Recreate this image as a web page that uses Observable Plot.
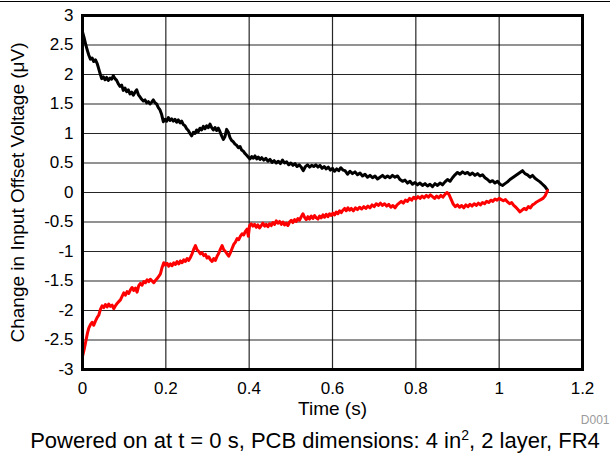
<!DOCTYPE html>
<html>
<head>
<meta charset="utf-8">
<script src="https://cdn.jsdelivr.net/npm/d3@7"></script>
<script src="https://cdn.jsdelivr.net/npm/@observablehq/plot@0.6"></script>
<style>
  html, body { margin: 0; padding: 0; background: #fff; }
  #wrap { position: relative; width: 610px; height: 453px; overflow: hidden; font-family: "Liberation Sans", Arial, sans-serif; }
  #topline { position: absolute; left: 0; top: 1px; width: 610px; height: 1px; background: #000; }
  #chart { position: absolute; left: 0; top: 0; }
  #caption { position: absolute; left: 20px; width: 590px; top: 428px; text-align: center; font-size: 22px; color: #000; line-height: 25px; white-space: nowrap; }
  #caption sup { font-size: 14px; line-height: 0; vertical-align: 0.55em; }
</style>
</head>
<body>
<div id="wrap">
  <div id="chart"></div>
  <div id="topline"></div>
  <div id="caption">Powered on at t = 0 s, PCB dimensions: 4 in<sup>2</sup>, 2 layer, FR4</div>
</div>
<script>
// Tick labels
const xTicks = [0, 0.2, 0.4, 0.6, 0.8, 1, 1.2];
const yTicks = [-3, -2.5, -2, -1.5, -1, -0.5, 0, 0.5, 1, 1.5, 2, 2.5, 3];

// Black series (time s, change in offset µV)
const blackT = [0.000,0.004,0.008,0.012,0.015,0.019,0.023,0.027,0.031,0.035,0.038,0.042,0.046,0.050,0.054,0.058,0.062,0.066,0.070,0.074,0.078,0.082,0.086,0.090,0.094,0.098,0.102,0.106,0.110,0.114,0.118,0.122,0.126,0.130,0.134,0.138,0.142,0.146,0.150,0.154,0.158,0.162,0.166,0.170,0.174,0.178,0.182,0.186,0.190,0.194,0.198,0.202,0.206,0.210,0.214,0.218,0.222,0.226,0.230,0.234,0.238,0.242,0.246,0.250,0.254,0.258,0.262,0.266,0.270,0.274,0.278,0.282,0.286,0.290,0.294,0.298,0.302,0.306,0.310,0.314,0.318,0.322,0.326,0.330,0.334,0.338,0.342,0.346,0.350,0.354,0.358,0.362,0.366,0.370,0.374,0.378,0.382,0.386,0.390,0.394,0.398,0.402,0.406,0.410,0.414,0.418,0.422,0.426,0.430,0.435,0.440,0.445,0.450,0.455,0.460,0.465,0.470,0.475,0.480,0.485,0.490,0.495,0.500,0.505,0.510,0.515,0.520,0.525,0.530,0.535,0.540,0.545,0.550,0.555,0.560,0.565,0.570,0.575,0.580,0.585,0.590,0.595,0.600,0.605,0.610,0.615,0.620,0.625,0.630,0.636,0.642,0.648,0.654,0.660,0.666,0.672,0.678,0.684,0.690,0.696,0.702,0.708,0.714,0.720,0.726,0.732,0.738,0.744,0.750,0.756,0.762,0.768,0.774,0.780,0.786,0.792,0.798,0.804,0.810,0.816,0.822,0.828,0.834,0.840,0.846,0.852,0.858,0.864,0.870,0.876,0.882,0.888,0.894,0.900,0.906,0.912,0.918,0.924,0.930,0.936,0.942,0.948,0.954,0.960,0.966,0.972,0.978,0.984,0.990,0.996,1.002,1.008,1.014,1.020,1.026,1.032,1.038,1.044,1.050,1.056,1.062,1.068,1.074,1.080,1.086,1.092,1.098,1.104,1.110,1.116];
const blackV = [2.72,2.62,2.50,2.40,2.33,2.26,2.28,2.22,2.25,2.19,2.12,2.02,1.93,1.96,1.91,1.95,1.90,1.94,1.92,1.98,1.93,1.90,1.84,1.80,1.82,1.73,1.77,1.71,1.74,1.67,1.70,1.65,1.70,1.74,1.66,1.62,1.58,1.55,1.57,1.52,1.54,1.50,1.53,1.57,1.52,1.50,1.44,1.40,1.32,1.20,1.24,1.21,1.27,1.22,1.25,1.21,1.24,1.19,1.23,1.18,1.21,1.15,1.13,1.08,1.05,1.00,0.96,1.02,1.00,1.06,1.03,1.09,1.06,1.12,1.08,1.13,1.10,1.16,1.10,1.06,1.10,1.05,1.09,1.03,0.96,0.90,0.95,1.07,1.02,0.93,0.88,0.86,0.82,0.80,0.76,0.78,0.72,0.70,0.66,0.63,0.60,0.57,0.61,0.58,0.62,0.57,0.60,0.56,0.59,0.55,0.58,0.53,0.56,0.51,0.54,0.50,0.53,0.49,0.55,0.50,0.52,0.47,0.50,0.46,0.49,0.44,0.47,0.43,0.37,0.44,0.47,0.43,0.46,0.44,0.47,0.43,0.46,0.41,0.44,0.40,0.43,0.38,0.41,0.36,0.40,0.37,0.42,0.38,0.37,0.31,0.36,0.32,0.35,0.30,0.33,0.28,0.31,0.26,0.29,0.25,0.28,0.23,0.26,0.29,0.25,0.28,0.25,0.29,0.26,0.28,0.22,0.19,0.21,0.16,0.19,0.14,0.17,0.13,0.16,0.12,0.15,0.11,0.14,0.10,0.15,0.12,0.16,0.13,0.18,0.22,0.19,0.25,0.30,0.34,0.31,0.35,0.32,0.34,0.30,0.33,0.29,0.32,0.28,0.30,0.25,0.22,0.18,0.20,0.16,0.19,0.14,0.12,0.15,0.18,0.22,0.25,0.28,0.31,0.34,0.37,0.32,0.30,0.26,0.29,0.24,0.21,0.18,0.14,0.10,0.04];

// Red series
const redT = [0.000,0.004,0.008,0.012,0.015,0.019,0.023,0.027,0.031,0.035,0.039,0.043,0.047,0.051,0.055,0.059,0.063,0.067,0.071,0.075,0.079,0.083,0.087,0.091,0.095,0.099,0.103,0.107,0.111,0.115,0.119,0.123,0.127,0.131,0.135,0.139,0.143,0.147,0.151,0.155,0.159,0.163,0.167,0.171,0.175,0.179,0.183,0.187,0.191,0.195,0.199,0.203,0.207,0.211,0.215,0.219,0.223,0.227,0.231,0.235,0.239,0.243,0.247,0.251,0.255,0.259,0.263,0.267,0.271,0.275,0.279,0.283,0.287,0.291,0.295,0.299,0.303,0.307,0.311,0.315,0.319,0.323,0.327,0.331,0.335,0.339,0.343,0.347,0.351,0.355,0.359,0.363,0.367,0.371,0.375,0.379,0.383,0.387,0.391,0.395,0.398,0.401,0.405,0.409,0.413,0.417,0.421,0.425,0.429,0.433,0.437,0.441,0.445,0.449,0.453,0.457,0.461,0.465,0.469,0.473,0.477,0.481,0.485,0.489,0.493,0.497,0.501,0.505,0.509,0.513,0.517,0.521,0.525,0.529,0.533,0.537,0.541,0.545,0.549,0.553,0.557,0.561,0.565,0.569,0.573,0.577,0.581,0.585,0.589,0.593,0.597,0.601,0.605,0.609,0.613,0.617,0.621,0.625,0.629,0.633,0.637,0.641,0.645,0.650,0.655,0.660,0.665,0.670,0.675,0.680,0.685,0.690,0.695,0.700,0.705,0.710,0.715,0.720,0.725,0.730,0.735,0.740,0.745,0.750,0.755,0.760,0.765,0.770,0.775,0.780,0.785,0.790,0.795,0.800,0.805,0.810,0.815,0.820,0.825,0.830,0.835,0.840,0.845,0.850,0.855,0.860,0.865,0.870,0.875,0.880,0.885,0.890,0.895,0.900,0.905,0.910,0.915,0.920,0.925,0.930,0.935,0.940,0.945,0.950,0.955,0.960,0.965,0.970,0.975,0.980,0.985,0.990,0.995,1.000,1.005,1.010,1.015,1.020,1.025,1.030,1.035,1.040,1.045,1.050,1.055,1.060,1.065,1.070,1.075,1.080,1.085,1.090,1.095,1.100,1.105,1.110,1.116];
const redV = [-2.78,-2.66,-2.52,-2.38,-2.30,-2.24,-2.20,-2.25,-2.18,-2.12,-2.08,-1.98,-1.92,-1.95,-1.90,-1.94,-1.89,-1.93,-1.91,-1.97,-1.92,-1.88,-1.85,-1.82,-1.76,-1.70,-1.74,-1.68,-1.71,-1.65,-1.61,-1.66,-1.62,-1.69,-1.58,-1.54,-1.57,-1.51,-1.53,-1.48,-1.51,-1.47,-1.50,-1.53,-1.49,-1.46,-1.42,-1.38,-1.27,-1.19,-1.23,-1.20,-1.25,-1.21,-1.24,-1.19,-1.22,-1.17,-1.21,-1.16,-1.19,-1.14,-1.17,-1.12,-1.15,-1.10,-1.04,-0.96,-0.90,-0.97,-1.00,-1.04,-1.02,-1.07,-1.05,-1.11,-1.09,-1.14,-1.17,-1.12,-1.15,-1.08,-1.03,-0.96,-0.90,-0.97,-1.00,-1.04,-1.08,-1.02,-0.95,-0.88,-0.84,-0.78,-0.80,-0.74,-0.70,-0.72,-0.66,-0.62,-0.74,-0.56,-0.53,-0.57,-0.54,-0.59,-0.55,-0.60,-0.56,-0.52,-0.57,-0.54,-0.58,-0.53,-0.56,-0.51,-0.54,-0.48,-0.52,-0.49,-0.54,-0.50,-0.55,-0.52,-0.56,-0.50,-0.47,-0.51,-0.46,-0.49,-0.44,-0.47,-0.41,-0.36,-0.42,-0.46,-0.41,-0.45,-0.40,-0.44,-0.39,-0.43,-0.45,-0.40,-0.43,-0.38,-0.42,-0.37,-0.41,-0.36,-0.39,-0.35,-0.38,-0.33,-0.36,-0.31,-0.34,-0.30,-0.27,-0.31,-0.26,-0.30,-0.27,-0.31,-0.26,-0.29,-0.25,-0.28,-0.24,-0.27,-0.23,-0.26,-0.21,-0.24,-0.19,-0.22,-0.18,-0.22,-0.19,-0.23,-0.20,-0.25,-0.22,-0.26,-0.21,-0.18,-0.15,-0.18,-0.13,-0.15,-0.10,-0.13,-0.08,-0.11,-0.07,-0.10,-0.06,-0.09,-0.05,-0.08,-0.04,-0.07,-0.10,-0.06,-0.09,-0.05,-0.08,-0.03,0.00,-0.04,-0.12,-0.20,-0.24,-0.21,-0.25,-0.22,-0.26,-0.21,-0.24,-0.20,-0.23,-0.19,-0.22,-0.18,-0.21,-0.17,-0.19,-0.15,-0.17,-0.13,-0.15,-0.11,-0.13,-0.10,-0.12,-0.14,-0.12,-0.16,-0.19,-0.17,-0.22,-0.25,-0.29,-0.33,-0.30,-0.27,-0.29,-0.24,-0.26,-0.21,-0.19,-0.16,-0.14,-0.12,-0.10,-0.06,0.03];

const blackData = blackT.map((t, i) => ({t, v: blackV[i]}));
const redData = redT.map((t, i) => ({t, v: redV[i]}));

const chart = Plot.plot({
  width: 610,
  height: 428,
  marginTop: 15,
  marginBottom: 59,
  marginLeft: 82,
  marginRight: 28,
  style: {fontFamily: "'Liberation Sans', Arial, sans-serif", fontSize: "17px", color: "#000", background: "transparent"},
  x: {domain: [0, 1.2]},
  y: {domain: [-3, 3]},
  marks: [
    Plot.gridX(xTicks, {stroke: "#000", strokeOpacity: 0.85, strokeWidth: 1.2}),
    Plot.gridY(yTicks, {stroke: "#000", strokeOpacity: 0.85, strokeWidth: 1.2}),
    Plot.axisX(xTicks, {tickSize: 0, tickPadding: 12, tickFormat: d => String(d), label: null, fontSize: 17}),
    Plot.axisX({tickSize: 0, ticks: [], label: "Time (s)", labelAnchor: "center", labelArrow: "none", labelOffset: 45, fontSize: 19}),
    Plot.axisY(yTicks, {tickSize: 0, tickPadding: 9, tickFormat: d => String(d), label: null, fontSize: 17}),
    Plot.axisY({tickSize: 0, ticks: [], label: "Change in Input Offset Voltage (μV)", labelAnchor: "center", labelArrow: "none", labelOffset: 72, fontSize: 19}),
    Plot.line(blackData, {x: "t", y: "v", stroke: "#000", strokeWidth: 3, strokeLinejoin: "round"}),
    Plot.line(redData, {x: "t", y: "v", stroke: "#ff0000", strokeWidth: 3, strokeLinejoin: "round"}),
    Plot.frame({stroke: "#000", strokeWidth: 3}),
    Plot.text(["D001"], {frameAnchor: "bottom-right", dx: 27, dy: 54, textAnchor: "end", fill: "#9a9a9a", fontSize: 12})
  ]
});
document.getElementById("chart").appendChild(chart);
</script>
</body>
</html>
